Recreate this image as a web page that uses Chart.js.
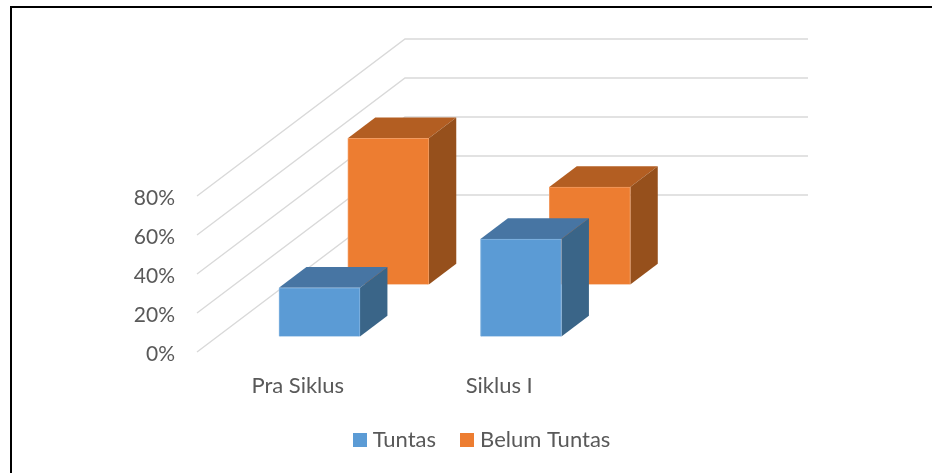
<!DOCTYPE html>
<html>
<head>
<meta charset="utf-8">
<title>Tuntas</title>
<script src="https://cdn.jsdelivr.net/npm/chart.js@4"></script>
<style>
  body { margin: 0; background: #fff; }
  #wrap { position: relative; width: 932px; height: 473px; overflow: hidden; }
  #frame { position: absolute; left: 10px; top: 6px; right: -5px; bottom: -5px; border-left: 2px solid #000; border-top: 2px solid #000; }
  canvas { position: absolute; left: 0; top: 0; }
</style>
</head>
<body>
<div id="wrap">
  <div id="frame"></div>
  <canvas id="barChart" width="932" height="473"></canvas>
</div>
<script>
const categories = ['Pra Siklus', 'Siklus I'];
const tuntas = [25, 50];
const belumTuntas = [75, 50];

const textColor = '#595959';
const gridColor = '#D9D9D9';
const fontFamily = 'Lato, sans-serif';

// the fake 3d box: how far the back wall sits from the front of the chart
const wallX = 208;
const wallY = 157;
const barDepth = 0.132;
const depthOf = [0.102, 0.433];
const faces = [
  { top: '#4775A3', side: '#3A6588' },
  { top: '#B35E22', side: '#96501C' },
];

function swatch(color) {
  const c = document.createElement('canvas');
  c.width = 14;
  c.height = 14;
  const x = c.getContext('2d');
  x.fillStyle = color;
  x.fillRect(0, 0, 14, 14);
  return c;
}

function poly(ctx, color, pts) {
  ctx.fillStyle = color;
  ctx.beginPath();
  pts.forEach((p, i) => i ? ctx.lineTo(p[0], p[1]) : ctx.moveTo(p[0], p[1]));
  ctx.closePath();
  ctx.fill();
}

const walls = {
  id: 'walls',
  beforeDatasetsDraw(chart) {
    const { ctx, scales, chartArea } = chart;
    ctx.save();
    ctx.strokeStyle = gridColor;
    ctx.lineWidth = 1.4;
    scales.y.ticks.forEach(t => {
      const y = scales.y.getPixelForValue(t.value);
      ctx.beginPath();
      ctx.moveTo(chartArea.left, y);
      ctx.lineTo(chartArea.left + wallX, y - wallY);
      ctx.lineTo(chartArea.right + wallX, y - wallY);
      ctx.stroke();
    });
    ctx.restore();
  },
};

const boxes = {
  id: 'boxes',
  beforeDatasetDraw(chart, args) {
    const { ctx } = chart;
    const d = depthOf[args.index];
    const dx = wallX * barDepth;
    const dy = wallY * barDepth;
    ctx.save();
    ctx.translate(wallX * d + 0.5, -wallY * d + 0.5);
    args.meta.data.forEach(bar => {
      const l = bar.x - bar.width / 2;
      const r = bar.x + bar.width / 2;
      poly(ctx, faces[args.index].top, [[l, bar.y], [l + dx, bar.y - dy], [r + dx, bar.y - dy], [r, bar.y]]);
      poly(ctx, faces[args.index].side, [[r, bar.y], [r + dx, bar.y - dy], [r + dx, bar.base - dy], [r, bar.base]]);
    });
  },
  afterDatasetDraw(chart) {
    chart.ctx.restore();
  },
};

// legend sits off centre in the original
const moveLegend = {
  id: 'moveLegend',
  afterLayout(chart) {
    const lg = chart.legend;
    lg.left = 184;
    lg.right = 784;
    lg.top = 400;
    lg.bottom = 473;
  },
};

new Chart(document.getElementById('barChart'), {
  type: 'bar',
  data: {
    labels: categories,
    datasets: [
      { label: 'Tuntas', data: tuntas, backgroundColor: '#5B9BD5', borderColor: '#84B5E1', borderWidth: 1, barThickness: 81, grouped: false, clip: false },
      { label: 'Belum Tuntas', data: belumTuntas, backgroundColor: '#ED7D31', borderColor: '#F29B60', borderWidth: 1, barThickness: 81, grouped: false, clip: false },
    ],
  },
  options: {
    responsive: false,
    animation: false,
    layout: { padding: { top: 196, right: 332, left: 0, bottom: 0 } },
    scales: {
      x: {
        grid: { display: false },
        border: { display: false },
        ticks: { color: textColor, font: { family: fontFamily, size: 22 }, padding: 13, maxRotation: 0 },
        afterFit(s) { s.height = 121 - s.chart.legend.height; },
      },
      y: {
        min: 0,
        max: 80,
        grid: { display: false },
        border: { display: false },
        ticks: { stepSize: 20, color: textColor, font: { family: fontFamily, size: 21 }, padding: 14, labelOffset: 2, callback: v => v + '%' },
        afterFit(s) { s.width = 197; },
      },
    },
    plugins: {
      tooltip: { enabled: false },
      legend: {
        position: 'bottom',
        labels: {
          color: textColor,
          font: { family: fontFamily, size: 22 },
          usePointStyle: true,
          boxWidth: 4,
          boxHeight: 14,
          padding: 29,
          generateLabels(chart) {
            return Chart.defaults.plugins.legend.labels.generateLabels(chart).map(item => {
              item.pointStyle = swatch(item.fillStyle);
              return item;
            });
          },
        },
      },
    },
  },
  plugins: [walls, boxes, moveLegend],
});
</script>
</body>
</html>
